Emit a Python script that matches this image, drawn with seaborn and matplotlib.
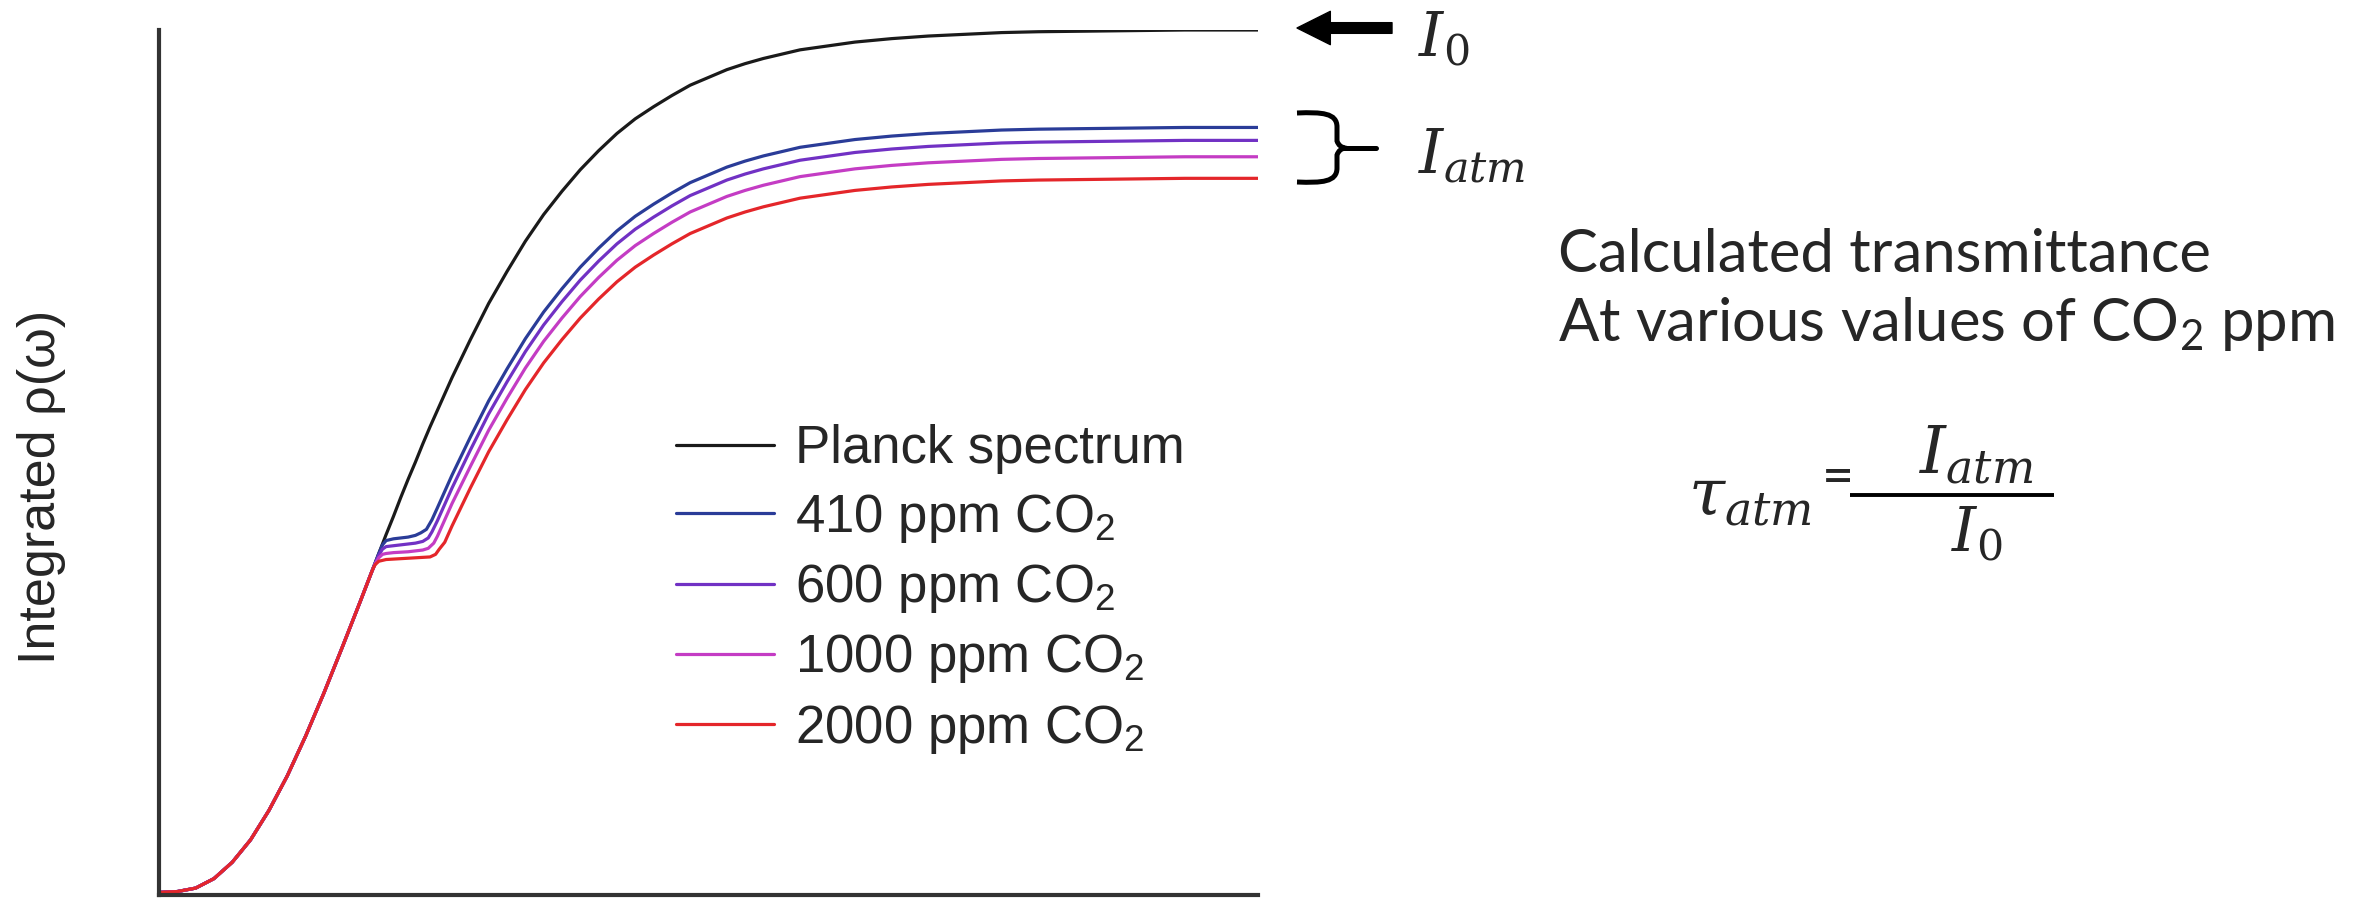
import pandas as pd
import seaborn as sns
import matplotlib
matplotlib.use("Agg")
import matplotlib.pyplot as plt
from matplotlib.path import Path
from matplotlib.patches import PathPatch, FancyArrowPatch
from matplotlib.lines import Line2D
from matplotlib.transforms import IdentityTransform

# ---- data: cumulative (integrated) spectral density vs wavenumber (cm^-1),
#      normalised so that the full Planck integral is 1 ----
series_labels = [
    "Planck spectrum",
    r"410 ppm $\mathregular{CO_2}$",
    r"600 ppm $\mathregular{CO_2}$",
    r"1000 ppm $\mathregular{CO_2}$",
    r"2000 ppm $\mathregular{CO_2}$",
]
series_colors = ["#1a1a1a", "#2a3c98", "#7131c4", "#c43cc4", "#e4262a"]

# low-wavenumber part shared by every curve
shared_wn = [0, 50, 100, 150, 200, 250, 300, 350, 400, 450, 500, 550, 560, 580]
shared_val = [0.000, 0.001, 0.005, 0.016, 0.035, 0.061, 0.095, 0.135, 0.181,
              0.231, 0.284, 0.338, 0.349, 0.371]

# wavenumbers above the CO2 band, common to all curves
tail_wn = [850, 900, 950, 1000, 1050, 1100, 1150, 1200, 1250, 1300, 1350, 1400,
           1450, 1500, 1550, 1600, 1650, 1700, 1750, 1800, 1900, 2000, 2100,
           2200, 2300, 2400, 2600, 2800, 3000]

planck_band_wn = [600, 620, 640, 660, 680, 700, 720, 740, 760, 780, 800]
planck_band_val = [0.393, 0.415, 0.436, 0.458, 0.479, 0.499, 0.520, 0.540, 0.559, 0.578, 0.597]
planck_tail = [0.641, 0.683, 0.720, 0.755, 0.786, 0.813, 0.838, 0.860, 0.880, 0.897,
               0.911, 0.924, 0.936, 0.945, 0.954, 0.961, 0.967, 0.972, 0.977, 0.980,
               0.986, 0.990, 0.993, 0.995, 0.997, 0.998, 0.999, 1.000, 1.000]

co2_410_band_wn = [600, 610, 620, 640, 660, 680, 700, 715, 730, 745, 760, 780, 800]
co2_410_band_val = [0.393, 0.403, 0.408, 0.410, 0.411, 0.412, 0.414, 0.417, 0.421,
                    0.432, 0.446, 0.465, 0.484]
co2_410_tail = [0.528, 0.570, 0.607, 0.642, 0.673, 0.700, 0.725, 0.747, 0.767, 0.784,
                0.798, 0.811, 0.823, 0.832, 0.841, 0.848, 0.854, 0.859, 0.864, 0.867,
                0.873, 0.877, 0.880, 0.882, 0.884, 0.885, 0.886, 0.887, 0.887]

co2_600_band_wn = [600, 610, 620, 640, 660, 680, 700, 720, 735, 745, 760, 780, 800]
co2_600_band_val = [0.391, 0.398, 0.401, 0.402, 0.403, 0.404, 0.405, 0.407, 0.411,
                    0.418, 0.431, 0.450, 0.469]
co2_600_tail = [0.513, 0.555, 0.592, 0.627, 0.658, 0.685, 0.710, 0.732, 0.752, 0.769,
                0.783, 0.796, 0.808, 0.817, 0.826, 0.833, 0.839, 0.844, 0.849, 0.852,
                0.858, 0.862, 0.865, 0.867, 0.869, 0.870, 0.871, 0.872, 0.872]

co2_1000_band_wn = [590, 600, 610, 620, 640, 680, 720, 735, 750, 760, 780, 800]
co2_1000_band_val = [0.381, 0.388, 0.392, 0.393, 0.394, 0.395, 0.397, 0.399, 0.405,
                     0.413, 0.432, 0.451]
co2_1000_tail = [0.494, 0.536, 0.573, 0.608, 0.639, 0.666, 0.691, 0.713, 0.733, 0.750,
                 0.764, 0.777, 0.789, 0.798, 0.807, 0.814, 0.820, 0.825, 0.830, 0.833,
                 0.839, 0.843, 0.846, 0.848, 0.850, 0.851, 0.852, 0.853, 0.853]

co2_2000_band_wn = [585, 590, 600, 620, 660, 700, 740, 755, 765, 780, 800]
co2_2000_band_val = [0.376, 0.380, 0.384, 0.386, 0.387, 0.388, 0.389, 0.392, 0.398,
                     0.406, 0.425]
co2_2000_tail = [0.469, 0.511, 0.548, 0.583, 0.614, 0.641, 0.666, 0.688, 0.708, 0.725,
                 0.739, 0.752, 0.764, 0.773, 0.782, 0.789, 0.795, 0.800, 0.805, 0.808,
                 0.814, 0.818, 0.821, 0.823, 0.825, 0.826, 0.827, 0.828, 0.828]

curves = [
    (planck_band_wn, planck_band_val, planck_tail),
    (co2_410_band_wn, co2_410_band_val, co2_410_tail),
    (co2_600_band_wn, co2_600_band_val, co2_600_tail),
    (co2_1000_band_wn, co2_1000_band_val, co2_1000_tail),
    (co2_2000_band_wn, co2_2000_band_val, co2_2000_tail),
]

frames = []
for label, (bwn, bval, tval) in zip(series_labels, curves):
    frames.append(pd.DataFrame({
        "wavenumber": shared_wn + bwn + tail_wn,
        "integrated": shared_val + bval + tval,
        "series": label,
    }))
df = pd.concat(frames, ignore_index=True)

# ---- figure ----
W, H, DPI = 2371, 898, 100
sns.set_style("ticks")
plt.rcParams["font.family"] = ["Liberation Sans", "DejaVu Sans"]
plt.rcParams["mathtext.fontset"] = "dejavuserif"

fig = plt.figure(figsize=(W / DPI, H / DPI), dpi=DPI)
ax = fig.add_axes([159 / W, 3 / H, (1258 - 159) / W, (895 - 30) / H])

sns.lineplot(
    data=df, x="wavenumber", y="integrated", hue="series",
    hue_order=series_labels, palette=series_colors,
    estimator=None, sort=False, linewidth=2.3, ax=ax, legend=True,
)

ax.set_xlim(0, 3000)
ax.set_ylim(-0.003, 1.0)
ax.set_xticks([])
ax.set_yticks([])
ax.set_xlabel("")
ax.set_ylabel("")
sns.despine(ax=ax)
for side in ("left", "bottom"):
    ax.spines[side].set_linewidth(3)
    ax.spines[side].set_color("#333333")

handles, labels = ax.get_legend_handles_labels()
ax.get_legend().remove()
leg = fig.legend(
    handles, labels, loc="center left",
    bbox_to_anchor=(676 / W, 1 - 590 / H), bbox_transform=fig.transFigure,
    frameon=False, fontsize=38, handlelength=1.85, handletextpad=0.4,
    labelspacing=0.33, borderpad=0, borderaxespad=0,
)
for line in leg.get_lines():
    line.set_linewidth(2.3)

# y axis label
fig.text(42 / W, 1 - 487 / H, "Integrated ρ(ω)", rotation=90,
         ha="center", va="center", fontsize=37.5)


def px(x, y):
    """image pixel (origin top-left) -> display coords"""
    return (x, H - y)


ident = IdentityTransform()

# arrow pointing at the Planck total
fig.add_artist(FancyArrowPatch(
    px(1392, 28), px(1297, 28), transform=ident,
    arrowstyle="simple,head_length=1.0,head_width=1.0,tail_width=0.32",
    mutation_scale=24, color="black", shrinkA=0, shrinkB=0,
))
fig.text(1418 / W, 1 - 56 / H, r"$I_0$", fontsize=44, ha="left", va="baseline")

# curly brace spanning the CO2 curves
verts = [
    px(1297, 113), px(1322, 112), px(1337, 113), px(1337, 127),
    px(1337, 141), px(1339, 147), px(1345, 148),
    px(1339, 149), px(1337, 155), px(1337, 168),
    px(1337, 182), px(1322, 183), px(1297, 182),
]
codes = [Path.MOVETO, Path.CURVE4, Path.CURVE4, Path.CURVE4,
         Path.LINETO, Path.CURVE3, Path.CURVE3,
         Path.CURVE3, Path.CURVE3, Path.LINETO,
         Path.CURVE4, Path.CURVE4, Path.CURVE4]
fig.add_artist(PathPatch(Path(verts, codes), transform=ident,
                         fill=False, lw=3.6, color="black", capstyle="butt"))
fig.add_artist(Line2D([1343, 1376], [H - 148, H - 148], transform=ident,
                      lw=3.6, color="black"))
fig.text(1418 / W, 1 - 173 / H, r"$I_{atm}$", fontsize=44, ha="left", va="baseline")

# explanatory text
side_font = ["Lato", "DejaVu Sans"]
fig.text(1558 / W, 1 - 272 / H, "Calculated transmittance", family=side_font,
         fontsize=43, ha="left", va="baseline")
fig.text(1558 / W, 1 - 341 / H, r"At various values of CO$\mathregular{_2}$ ppm",
         family=side_font, fontsize=43, ha="left", va="baseline")

# transmittance formula
fig.text(1688 / W, 1 - 515 / H, r"$\tau_{atm}$", fontsize=47, ha="left", va="baseline")
fig.text(1838 / W, 1 - 478 / H, "=", family=side_font, fontsize=40,
         ha="center", va="center")
fig.add_artist(Line2D([1850, 2054], [H - 495, H - 495], transform=ident,
                      lw=2.8, color="black", solid_capstyle="butt"))
fig.text(1976 / W, 1 - 486 / H, r"$I_{atm}$", fontsize=47, ha="center", va="bottom")
fig.text(1977 / W, 1 - 505 / H, r"$I_0$", fontsize=44, ha="center", va="top")

fig.savefig("out.png", dpi=DPI)
